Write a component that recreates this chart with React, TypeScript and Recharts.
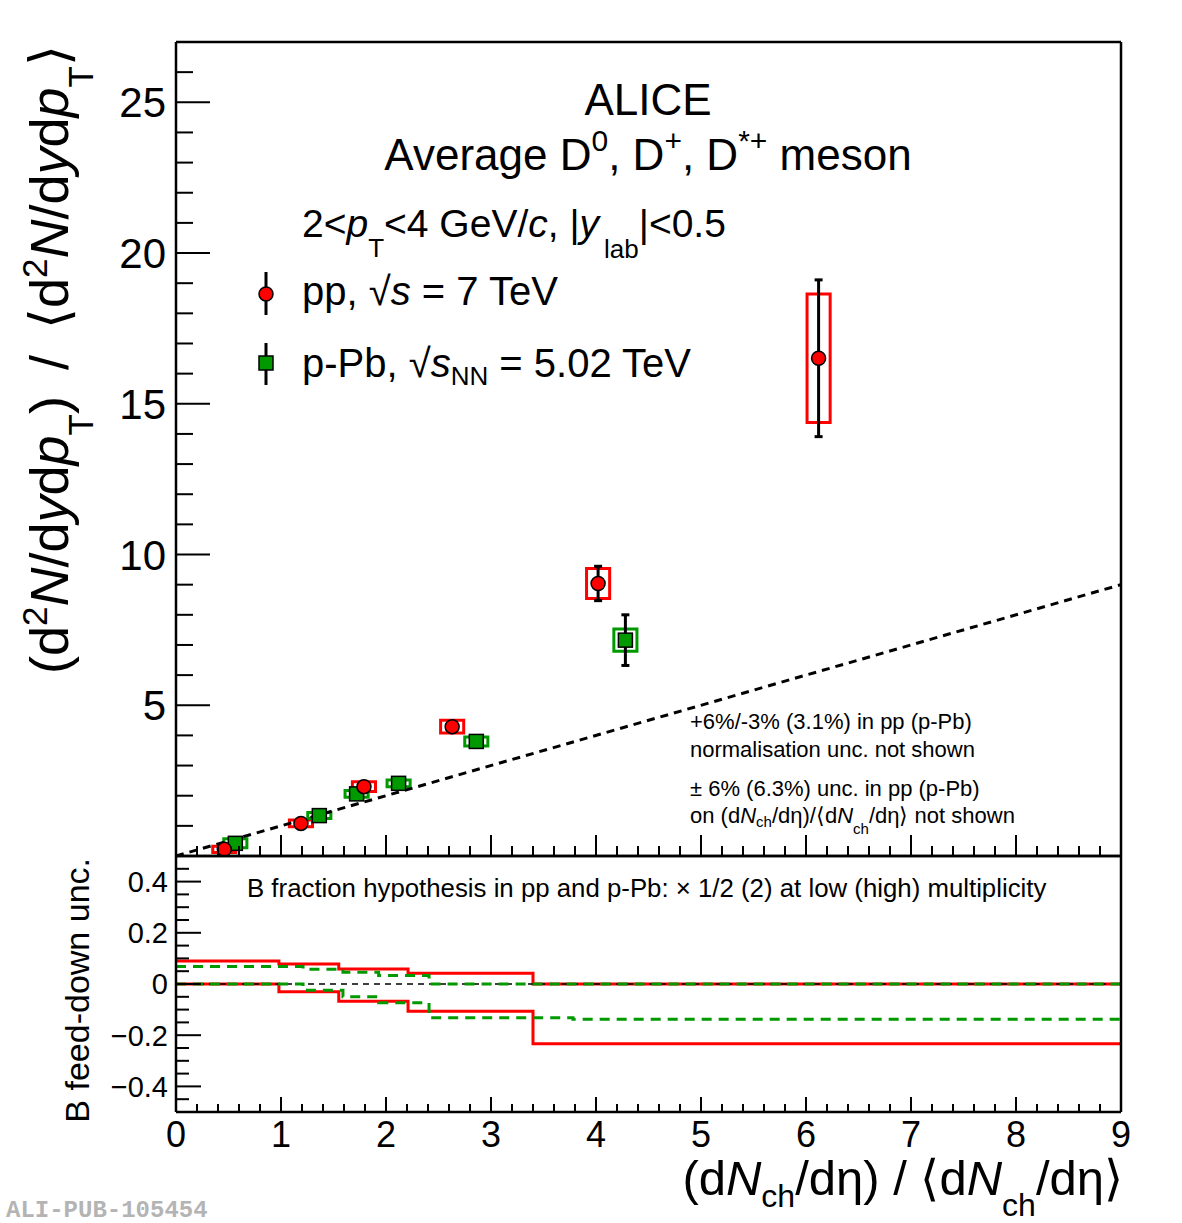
import React from 'react';
import { ComposedChart, Scatter, Line, XAxis, YAxis, ErrorBar, ReferenceArea, ReferenceLine } from 'recharts';

const FONT = '"Liberation Sans", Arial, Helvetica, sans-serif';
const RED = '#ff0000';
const GREEN = '#009900';

// pp, sqrt(s) = 7 TeV
const ppMult = [0.46, 1.19, 1.79, 2.63, 4.02, 6.12];
const ppYield = [0.22, 1.08, 2.30, 4.29, 9.04, 16.51];
const ppStat = [0.06, 0.08, 0.12, 0.15, 0.57, 2.6];
const ppSyst = [0.10, 0.11, 0.16, 0.21, 0.50, 2.13];

// p-Pb, sqrt(sNN) = 5.02 TeV
const pPbMult = [0.565, 1.365, 1.72, 2.12, 2.86, 4.28];
const pPbYield = [0.42, 1.34, 2.06, 2.41, 3.80, 7.16];
const pPbStat = [0.05, 0.08, 0.10, 0.10, 0.13, 0.84];
const pPbSyst = [0.15, 0.10, 0.11, 0.11, 0.15, 0.37];

// half width of the syst. boxes, in multiplicity units
const BOX_HW = 0.11;

// B feed-down uncertainty (step edges and values)
const ppFdEdges = [0, 0.98, 1.55, 2.21, 3.40, 9];
const ppFdUp = [0.090, 0.078, 0.059, 0.042, 0, 0];
const ppFdLow = [0, -0.030, -0.067, -0.106, -0.233, -0.233];
const pPbFdEdges = [0, 1.21, 1.59, 1.93, 2.41, 3.78, 9];
const pPbFdUp = [0.068, 0.058, 0.046, 0.033, 0, 0, 0];
const pPbFdLow = [0, -0.024, -0.050, -0.073, -0.132, -0.138, -0.138];

// axis ticks
const xMajor = [0, 1, 2, 3, 4, 5, 6, 7, 8, 9];
const xLabels = ['0', '1', '2', '3', '4', '5', '6', '7', '8', '9'];
const yTopMajor = [5, 10, 15, 20, 25];
const yTopLabels = ['5', '10', '15', '20', '25'];
const yBotMajor = [-0.4, -0.2, 0, 0.2, 0.4];
const yBotLabels = ['\u22120.4', '\u22120.2', '0', '0.2', '0.4'];

const xTicks: number[] = [];
for (let k = 0; k <= 45; k++) xTicks.push(Math.round(k * 2) / 10);
const yTopTicks: number[] = [];
for (let k = 1; k <= 27; k++) yTopTicks.push(k);
const yBotTicks: number[] = [];
for (let k = -10; k <= 10; k++) yBotTicks.push(Math.round(k * 5) / 100);

const ppData = ppMult.map((x, i) => ({ x, y: ppYield[i], err: ppStat[i] }));
const pPbData = pPbMult.map((x, i) => ({ x, y: pPbYield[i], err: pPbStat[i] }));
const steps = (edges: number[], vals: number[]) => edges.map((x, i) => ({ x, v: vals[i] }));

const near = (a: number, b: number) => Math.abs(a - b) < 1e-6;

type Side = 'left' | 'right' | 'top' | 'bottom';
interface TickSpec {
  side: Side;
  majors: number[];
  labels?: string[];
  major: number;
  minor: number;
  fontSize?: number;
  off?: number;
}

// ROOT style ticks: drawn inwards, label only on major ticks
const tickRenderer = (spec: TickSpec) => (props: any) => {
  const { x, y, payload } = props;
  const v = payload.value as number;
  const idx = spec.majors.findIndex((m) => near(m, v));
  const big = idx >= 0;
  const len = big ? spec.major : spec.minor;
  let x2 = x, y2 = y;
  if (spec.side === 'left') x2 = x + len;
  else if (spec.side === 'right') x2 = x - len;
  else if (spec.side === 'top') y2 = y + len;
  else y2 = y - len;
  const label = big && spec.labels ? spec.labels[idx] : null;
  const fs = spec.fontSize ?? 30;
  let lbl = null;
  if (label !== null) {
    if (spec.side === 'left') {
      lbl = <text x={x - (spec.off ?? 8)} y={y + fs * 0.36} textAnchor="end" fontSize={fs} fontFamily={FONT} fill="#000">{label}</text>;
    } else if (spec.side === 'bottom') {
      lbl = <text x={x} y={y + (spec.off ?? 35)} textAnchor="middle" fontSize={fs} fontFamily={FONT} fill="#000">{label}</text>;
    }
  }
  return (
    <g>
      <line x1={x} y1={y} x2={x2} y2={y2} stroke="#000" strokeWidth={2} />
      {lbl}
    </g>
  );
};

type Part = { t: string; i?: boolean; s?: number; fs?: number; dx?: number };

const Rich = ({ x, y, size, parts, anchor = 'start', transform }: { x: number; y: number; size: number; parts: Part[]; anchor?: string; transform?: string }) => {
  let cur = 0;
  return (
    <text x={x} y={y} fontSize={size} fontFamily={FONT} textAnchor={anchor as any} transform={transform} fill="#000" style={{ whiteSpace: 'pre' }}>
      {parts.map((p, k) => {
        const sh = p.s ?? 0;
        const dy = sh - cur;
        cur = sh;
        return (
          <tspan key={k} dy={dy || undefined} dx={p.dx} fontStyle={p.i ? 'italic' : undefined} fontSize={p.fs}>
            {p.t}
          </tspan>
        );
      })}
    </text>
  );
};

const axisLine = { stroke: '#000', strokeWidth: 2.5 };

const Circle = (p: any) => <circle cx={p.cx} cy={p.cy} r={7} fill={RED} stroke="#000" strokeWidth={1.5} />;
const Square = (p: any) => <rect x={p.cx - 7} y={p.cy - 7} width={14} height={14} fill={GREEN} stroke="#000" strokeWidth={1.5} />;

// axes take 1px each, the rest of the frame comes from the margins
const TopPanel = () => (
  <ComposedChart width={1182} height={862} margin={{ top: 41, right: 60, bottom: 5, left: 175 }}>
    <XAxis xAxisId={0} dataKey="x" type="number" domain={[0, 9]} ticks={xTicks} interval={0} height={1}
      tickSize={0} tickMargin={0} tickLine={false} axisLine={axisLine}
      tick={tickRenderer({ side: 'bottom', majors: xMajor, major: 21, minor: 10 })} />
    <XAxis xAxisId="top" orientation="top" dataKey="x" type="number" domain={[0, 9]} ticks={xTicks} interval={0} height={1}
      tickSize={0} tickMargin={0} tickLine={false} axisLine={axisLine}
      tick={tickRenderer({ side: 'top', majors: xMajor, major: 21, minor: 10 })} />
    <YAxis yAxisId={0} type="number" domain={[0, 27]} ticks={yTopTicks} interval={0} width={1}
      tickSize={0} tickMargin={0} tickLine={false} axisLine={axisLine}
      tick={tickRenderer({ side: 'left', majors: yTopMajor, labels: yTopLabels, major: 34, minor: 17, fontSize: 42, off: 10 })} />
    <YAxis yAxisId="right" orientation="right" type="number" domain={[0, 27]} ticks={yTopTicks} interval={0} width={1}
      tickSize={0} tickMargin={0} tickLine={false} axisLine={axisLine}
      tick={tickRenderer({ side: 'right', majors: yTopMajor, major: 34, minor: 17 })} />

    <ReferenceLine segment={[{ x: 0, y: 0 }, { x: 9, y: 9 }]} stroke="#000" strokeWidth={3} strokeDasharray="8 6" />

    {ppMult.map((x, i) => (
      <ReferenceArea key={'pps' + i} x1={x - BOX_HW} x2={x + BOX_HW} y1={ppYield[i] - ppSyst[i]} y2={ppYield[i] + ppSyst[i]}
        fill="none" fillOpacity={0} stroke={RED} strokeWidth={3} ifOverflow="visible" />
    ))}
    {pPbMult.map((x, i) => (
      <ReferenceArea key={'pbs' + i} x1={x - BOX_HW} x2={x + BOX_HW} y1={pPbYield[i] - pPbSyst[i]} y2={pPbYield[i] + pPbSyst[i]}
        fill="none" fillOpacity={0} stroke={GREEN} strokeWidth={3} ifOverflow="visible" />
    ))}

    <Scatter data={pPbData} dataKey="y" shape={Square} isAnimationActive={false}>
      <ErrorBar dataKey="err" direction="y" width={4} stroke="#000" strokeWidth={3} isAnimationActive={false} />
    </Scatter>
    <Scatter data={ppData} dataKey="y" shape={Circle} isAnimationActive={false}>
      <ErrorBar dataKey="err" direction="y" width={4} stroke="#000" strokeWidth={3} isAnimationActive={false} />
    </Scatter>
  </ComposedChart>
);

const BottomPanel = () => (
  <ComposedChart width={1182} height={373} margin={{ top: 5, right: 60, bottom: 110, left: 175 }}>
    <XAxis xAxisId={0} dataKey="x" type="number" domain={[0, 9]} ticks={xTicks} interval={0} height={1}
      tickSize={0} tickMargin={0} tickLine={false} axisLine={axisLine}
      tick={tickRenderer({ side: 'bottom', majors: xMajor, labels: xLabels, major: 15, minor: 8, fontSize: 36, off: 35 })} />
    <XAxis xAxisId="top" orientation="top" dataKey="x" type="number" domain={[0, 9]} ticks={xTicks} interval={0} height={1}
      tickSize={0} tickMargin={0} tickLine={false} axisLine={axisLine}
      tick={tickRenderer({ side: 'top', majors: xMajor, major: 15, minor: 8 })} />
    <YAxis yAxisId={0} type="number" domain={[-0.5, 0.5]} ticks={yBotTicks} interval={0} width={1}
      tickSize={0} tickMargin={0} tickLine={false} axisLine={axisLine}
      tick={tickRenderer({ side: 'left', majors: yBotMajor, labels: yBotLabels, major: 25, minor: 13, fontSize: 29, off: 8 })} />
    <YAxis yAxisId="right" orientation="right" type="number" domain={[-0.5, 0.5]} ticks={yBotTicks} interval={0} width={1}
      tickSize={0} tickMargin={0} tickLine={false} axisLine={axisLine}
      tick={tickRenderer({ side: 'right', majors: yBotMajor, major: 25, minor: 13 })} />

    <Line data={steps(ppFdEdges, ppFdUp)} dataKey="v" type="stepAfter" stroke={RED} strokeWidth={3} dot={false} isAnimationActive={false} />
    <Line data={steps(ppFdEdges, ppFdLow)} dataKey="v" type="stepAfter" stroke={RED} strokeWidth={3} dot={false} isAnimationActive={false} />
    <ReferenceLine y={0} stroke="#000" strokeWidth={1.5} strokeDasharray="6 5" />
    <Line data={steps(pPbFdEdges, pPbFdUp)} dataKey="v" type="stepAfter" stroke={GREEN} strokeWidth={3} strokeDasharray="10 7" dot={false} isAnimationActive={false} />
    <Line data={steps(pPbFdEdges, pPbFdLow)} dataKey="v" type="stepAfter" stroke={GREEN} strokeWidth={3} strokeDasharray="10 7" dot={false} isAnimationActive={false} />
  </ComposedChart>
);

const Texts = () => (
  <svg width={1182} height={1223} style={{ position: 'absolute', left: 0, top: 0, pointerEvents: 'none' }}>
    <Rich x={648} y={115} size={44} anchor="middle" parts={[{ t: 'ALICE' }]} />
    <Rich x={648} y={170} size={44} anchor="middle" parts={[
      { t: 'Average D' }, { t: '0', fs: 30, s: -19 }, { t: ', D' }, { t: '+', fs: 30, s: -19 },
      { t: ', D' }, { t: '*+', fs: 30, s: -19 }, { t: ' meson' },
    ]} />
    <Rich x={302} y={237} size={39} parts={[
      { t: '2<' }, { t: 'p', i: true }, { t: 'T', fs: 26, s: 20 }, { t: '<4 GeV/' }, { t: 'c', i: true },
      { t: ', |' }, { t: 'y', i: true }, { t: 'lab', fs: 26, s: 21, dx: 5 }, { t: '|<0.5' },
    ]} />

    {/* legend */}
    <line x1={266} y1={272} x2={266} y2={315} stroke="#000" strokeWidth={3} />
    <circle cx={266} cy={294} r={7} fill={RED} stroke="#000" strokeWidth={1.5} />
    <line x1={266} y1={343} x2={266} y2={385} stroke="#000" strokeWidth={3} />
    <rect x={259} y={356} width={14} height={14} fill={GREEN} stroke="#000" strokeWidth={1.5} />
    <Rich x={302} y={305} size={40} parts={[{ t: 'pp, ' }, { t: '\u221a' }, { t: 's', i: true }, { t: ' = 7 TeV' }]} />
    <Rich x={302} y={377} size={40} parts={[
      { t: 'p-Pb, ' }, { t: '\u221a' }, { t: 's', i: true }, { t: 'NN', fs: 26, s: 8 }, { t: ' = 5.02 TeV' },
    ]} />

    {/* notes */}
    <Rich x={690} y={729} size={22} parts={[{ t: '+6%/-3% (3.1%) in pp (p-Pb)' }]} />
    <Rich x={690} y={757} size={22} parts={[{ t: 'normalisation unc. not shown' }]} />
    <Rich x={690} y={796} size={22} parts={[{ t: '\u00b1 6% (6.3%) unc. in pp (p-Pb)' }]} />
    <Rich x={690} y={823} size={22} parts={[
      { t: 'on (d' }, { t: 'N', i: true }, { t: 'ch', fs: 15, s: 4 }, { t: '/d\u03b7)/\u27e8d' }, { t: 'N', i: true },
      { t: 'ch', fs: 15, s: 11 }, { t: '/d\u03b7\u27e9 not shown' },
    ]} />

    <Rich x={247} y={897} size={25.8} parts={[{ t: 'B fraction hypothesis in pp and p-Pb: \u00d7 1/2 (2) at low (high) multiplicity' }]} />

    {/* axis titles */}
    <Rich x={-45} y={68} size={54} anchor="end" transform="rotate(-90)" parts={[
      { t: '(d' }, { t: '2', fs: 35, s: -21 }, { t: 'N', i: true }, { t: '/d' }, { t: 'y', i: true }, { t: 'd' }, { t: 'p', i: true },
      { t: 'T', fs: 35, s: 25 }, { t: ')' }, { t: '/', dx: 26 }, { t: '\u27e8d', dx: 26 }, { t: '2', fs: 35, s: -21 }, { t: 'N', i: true }, { t: '/d' },
      { t: 'y', i: true }, { t: 'd' }, { t: 'p', i: true }, { t: 'T', fs: 35, s: 25 }, { t: '\u27e9' },
    ]} />
    <Rich x={-858} y={89} size={34} anchor="end" transform="rotate(-90)" parts={[{ t: 'B feed-down unc.' }]} />
    <Rich x={1123} y={1195} size={49} anchor="end" parts={[
      { t: '(d' }, { t: 'N', i: true }, { t: 'ch', fs: 32, s: 12 }, { t: '/d\u03b7) / \u27e8d' }, { t: 'N', i: true },
      { t: 'ch', fs: 32, s: 21 }, { t: '/d\u03b7\u27e9' },
    ]} />

    <text x={6} y={1217} fontSize={24} fontWeight="bold" fontFamily='"Liberation Mono", "DejaVu Sans Mono", monospace' fill="#b4b4b4">ALI-PUB-105454</text>
  </svg>
);

export default function App() {
  return (
    <div style={{ position: 'absolute', left: 0, top: 0, width: 1182, height: 1223, background: '#fff', fontFamily: FONT }}>
      <div style={{ position: 'absolute', left: 0, top: 0 }}>
        <TopPanel />
      </div>
      <div style={{ position: 'absolute', left: 0, top: 850 }}>
        <BottomPanel />
      </div>
      <Texts />
    </div>
  );
}
